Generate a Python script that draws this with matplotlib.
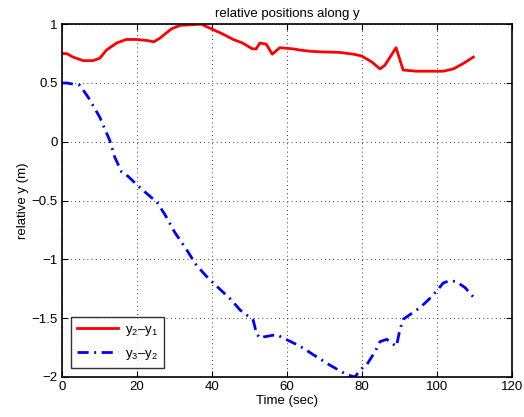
import matplotlib
matplotlib.use('Agg')
import matplotlib.pyplot as plt
import numpy as np

# time stamps (sec) and relative positions (m)
t_red = [0, 1.3, 3, 5.7, 8.3, 10.1, 11.9, 14.6, 17.2, 20, 23, 24.5, 26.1, 29.2, 31.5,
         34.5, 37.2, 39.9, 43, 45.7, 48.2, 50.8, 51.8, 52.8, 54.5, 56.1, 58.1, 61.7,
         63.5, 66.1, 68.8, 74.1, 77.7, 79.9, 82.6, 84.8, 86.1, 89.1, 91, 94.6, 101.7,
         104.4, 107, 109.7]
y21 = [0.75, 0.75, 0.72, 0.69, 0.69, 0.71, 0.78, 0.84, 0.87, 0.87, 0.86, 0.85, 0.88,
       0.96, 0.99, 0.995, 1.0, 0.96, 0.915, 0.87, 0.84, 0.79, 0.79, 0.84, 0.83, 0.745,
       0.80, 0.79, 0.78, 0.77, 0.765, 0.76, 0.745, 0.73, 0.68, 0.62, 0.65, 0.80, 0.61,
       0.60, 0.60, 0.62, 0.665, 0.72]

t_blue = [0, 1.3, 4.8, 7, 10.1, 12.8, 14.1, 15.9, 17.2, 20.5, 23.9, 25.1, 27.5, 30.1,
          33.1, 35.9, 39, 45.2, 47.5, 51, 51.9, 52.8, 53.7, 57.2, 61.7, 64.4, 67,
          71.5, 75.9, 78.1, 79.9, 81.2, 83.5, 84.8, 86.6, 89.2, 90.1, 91, 92.8, 95.5,
          97.7, 99.9, 101.7, 103.5, 105.2, 107.5, 109.7]
y32 = [0.5, 0.5, 0.48, 0.38, 0.21, 0.01, -0.13, -0.255, -0.28, -0.38, -0.475, -0.50,
       -0.62, -0.77, -0.91, -1.05, -1.16, -1.345, -1.43, -1.515, -1.63, -1.67, -1.66,
       -1.64, -1.71, -1.755, -1.81, -1.90, -1.98, -2.0, -1.93, -1.90, -1.785, -1.70,
       -1.68, -1.74, -1.60, -1.51, -1.47, -1.41, -1.345, -1.27, -1.20, -1.18, -1.19,
       -1.24, -1.32]

plt.rcParams['font.family'] = ['Liberation Sans', 'DejaVu Sans']
plt.rcParams['font.size'] = 9.5
plt.rcParams['mathtext.fontset'] = 'custom'
plt.rcParams['mathtext.rm'] = 'Liberation Sans'
plt.rcParams['mathtext.it'] = 'Liberation Sans'

fig = plt.figure(figsize=(5.24, 4.17), dpi=100)
ax = fig.add_axes([0.118, 0.096, 0.859, 0.846])

ax.plot(t_red, y21, color='red', lw=2, label='y$_2$\u2013y$_1$')
ax.plot(t_blue, y32, color='blue', lw=2, linestyle=(0, (4, 2, 0.7, 2)),
        label='y$_3$\u2013y$_2$')

ax.set_xlim(0, 120)
ax.set_ylim(-2, 1)
ax.set_xticks(np.arange(0, 121, 20))
ax.set_yticks(np.arange(-2, 1.01, 0.5))
ax.set_yticklabels(['\u22122', '\u22121.5', '\u22121', '\u22120.5', '0', '0.5', '1'])
ax.grid(True, linestyle=(0, (1, 4)), color='black', lw=0.6)
ax.tick_params(direction='in', top=True, right=True, length=4, width=0.8, pad=3)
for s in ax.spines.values():
    s.set_linewidth(1.2)

ax.set_title('relative positions along y', fontsize=9.5, pad=5)
ax.set_xlabel('Time (sec)', labelpad=1)
ax.set_ylabel('relative y (m)', labelpad=2)

leg = ax.legend(loc='lower left', fancybox=False, edgecolor='black',
                fontsize=9.5, handlelength=3.1, handletextpad=0.5,
                borderaxespad=0.7, labelspacing=0.75, borderpad=0.45)
leg.get_frame().set_linewidth(1.0)

fig.savefig('out.png', dpi=100)
